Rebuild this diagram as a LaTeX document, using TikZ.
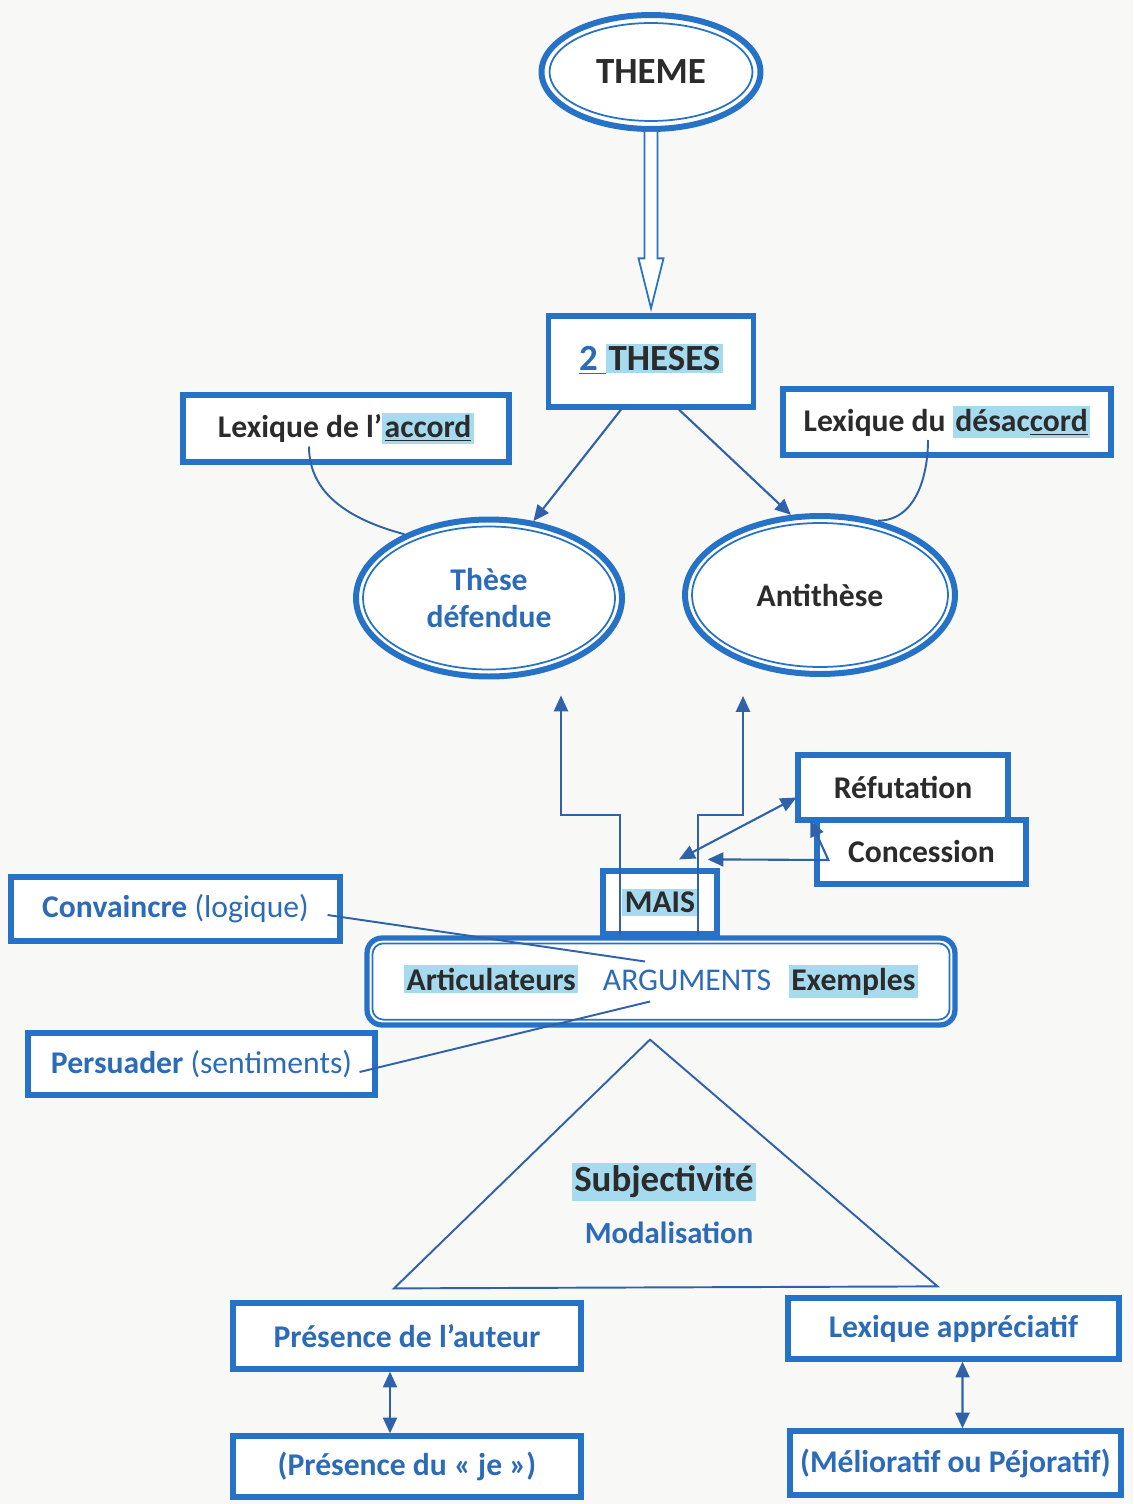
\documentclass[tikz,border=0pt]{standalone}
\usepackage{fontspec}
\setmainfont{Carlito}
\usepackage{xcolor}
\definecolor{bleu}{HTML}{2572C6}
\definecolor{trait}{HTML}{2F62A8}
\definecolor{encre}{HTML}{2B2B2B}
\definecolor{bleutexte}{HTML}{2C6BB7}
\definecolor{surligne}{HTML}{A6DBEF}
\definecolor{papier}{HTML}{F8F8F7}
\usepackage{tikz}
\usetikzlibrary{shapes,arrows,arrows.meta}
\usetikzlibrary{positioning,calc}
\newcommand{\moyen}{\fontsize{18}{21}\selectfont}
\newcommand{\grand}{\fontsize{21}{24}\selectfont}
\newcommand{\surl}[1]{{\setlength{\fboxsep}{1.5pt}\colorbox{surligne}{#1}}}
\tikzstyle{block} = [rectangle, draw=bleu, line width=3pt, fill=white, 
    text centered, inner sep=0pt, font=\moyen\bfseries, text=encre]
\tikzstyle{bulle} = [ellipse, draw=bleu, line width=3.4pt, fill=white, 
    inner sep=0pt, font=\moyen\bfseries, text=encre]
\tikzstyle{bulleint} = [ellipse, draw=bleu, line width=1pt, inner sep=0pt]
\tikzstyle{line} = [draw=trait, line width=1.2pt, -{Triangle[length=9pt,width=8pt]}]
\tikzstyle{both} = [draw=trait, line width=1.2pt, {Triangle[length=9pt,width=8pt]}-{Triangle[length=9pt,width=8pt]}]
\tikzstyle{fil} = [draw=trait, line width=1.1pt]

\begin{document}
\begin{tikzpicture}[x=0.02cm,y=-0.02cm]
    \fill[papier] (0,0) rectangle (1133,1504);
    \useasboundingbox (0,0) rectangle (1133,1504);

    % Place nodes
    \node [bulle, font=\grand\bfseries, minimum width=4.38cm, minimum height=2.28cm] (theme) at (651,72) {THEME};
    \node [bulleint, minimum width=4.06cm, minimum height=1.96cm] (theme-in) at (theme) {};
    \node [block, font=\grand\bfseries, minimum width=4.1cm, minimum height=1.82cm] (theses) at (651,361.5)
        {\raisebox{5pt}{{\color{bleutexte}\underline{2\ }}\surl{THESES}}};

    \node [block, minimum width=6.52cm, minimum height=1.34cm] (accord) at (346,428.5)
        {Lexique de l'\surl{\underline{accord}}};
    \node [block, minimum width=6.56cm, minimum height=1.32cm] (desaccord) at (947,422)
        {Lexique du \surl{désac\underline{cord}}};

    \node [bulle, text=bleutexte, align=center, minimum width=5.32cm, minimum height=3.14cm] (these) at (489,598)
        {Thèse\\défendue};
    \node [bulleint, minimum width=5.04cm, minimum height=2.86cm] (these-in) at (these) {};
    \node [bulle, minimum width=5.4cm, minimum height=3.16cm] (anti) at (820,595) {Antithèse};
    \node [bulleint, minimum width=5.12cm, minimum height=2.88cm] (anti-in) at (anti) {};

    \node [block, minimum width=4.2cm, minimum height=1.3cm] (refut) at (903,787.5) {Réfutation};
    \node [block, minimum width=4.18cm, minimum height=1.28cm] (conc) at (921.5,852) {Concession};

    \node [block, rounded corners=0.3cm, minimum width=11.76cm, minimum height=1.74cm] (args) at (661,981.5)
        {\surl{Articulateurs}\hspace{14pt}{\mdseries\color{bleutexte}ARGUMENTS}\hspace{10pt}\surl{Exemples}};
    \draw [bleu, line width=1pt, rounded corners=0.22cm] ($(args.south west)+(8,-8)$) rectangle ($(args.north east)+(-8,8)$);
    \node [block, minimum width=2.28cm, minimum height=1.26cm] (mais) at (660,902.5) {\surl{MAIS}};

    \node [block, text=bleutexte, minimum width=6.58cm, minimum height=1.28cm] (conv) at (175.5,909)
        {Convaincre {\mdseries(logique)}};
    \node [block, text=bleutexte, minimum width=6.94cm, minimum height=1.24cm] (pers) at (201.5,1064)
        {Persuader {\mdseries(sentiments)}};

    \node [font=\grand\bfseries, text=encre] (subj) at (664,1182) {\surl{Subjectivité}};
    \node [font=\fontsize{17.5}{20}\selectfont\bfseries, text=bleutexte] (modal) at (669,1233) {Modalisation};

    \node [block, text=bleutexte, minimum width=6.96cm, minimum height=1.32cm] (auteur) at (407,1336) {Présence de l'auteur};
    \node [block, text=bleutexte, minimum width=6.96cm, minimum height=1.22cm] (je) at (407,1466.5) {(Présence du « je »)};
    \node [block, text=bleutexte, minimum width=6.62cm, minimum height=1.22cm] (apprec) at (953.5,1328.5) {Lexique appréciatif};
    \node [block, text=bleutexte, minimum width=6.62cm, minimum height=1.28cm] (melio) at (955.5,1463) {(Mélioratif ou Péjoratif)};

    % position dummy nodes
    \coordinate (gauche) at ($(these.south)+(72,16)$);
    \coordinate (droite) at ($(anti.south)+(-77,19)$);
    \coordinate (coude) at ($(conc.west)+(14,8)$);
    \coordinate (sommet) at ($(args.south)+(-11,12)$);
    \coordinate (baseg) at ($(auteur.north)+(-13,-12)$);
    \coordinate (based) at ($(apprec.north)+(-16,-9)$);

    % Draw edges
    \draw [draw=bleu, line width=1pt, fill=white] ($(theme.south)+(-6.5,0)$) -- ($(theses.north)+(-6.5,-55)$)
        -- ($(theses.north)+(-12.5,-55)$) -- ($(theses.north)+(0,-5)$) -- ($(theses.north)+(12.5,-55)$)
        -- ($(theses.north)+(6.5,-55)$) -- ($(theme.south)+(6.5,0)$);
    \path [line] ([xshift=-0.6cm]theses.south) -- (these.60);
    \path [line] ([xshift=0.56cm]theses.south) -- (anti.110);
    \path [fil] ($(accord.center)+(-37,18)$) to[out=-90,in=165] (these.143);
    \path [fil] ($(desaccord.center)+(-19,18)$) to[out=-90,in=0] (anti.52);

    \path [line] ($(args.north)+(-41,0)$) -- ++(0,-120) -| (gauche);
    \path [line] ($(args.north)+(37,0)$) -- ++(0,-120) -| (droite);
    \path [both] ($(mais.north)+(19,-9)$) -- ($(refut.west)+(1,10)$);
    \path [both] ($(mais.north east)+(-12,-9)$) -- (coude) -- ($(refut.south west)+(15,-2)$);

    \path [fil] ($(conv.east)+(-15,6)$) -- ($(args.center)+(-16,-20)$);
    \path [fil] ($(pers.east)+(-18,8)$) -- ($(args.center)+(-11,20)$);

    \path [fil] (sommet) -- (baseg) -- (based) -- cycle;
    \path [both] ([xshift=-0.34cm]auteur.south) -- ([xshift=-0.34cm]je.north);
    \path [both] ([xshift=0.18cm]apprec.south) -- ([xshift=0.14cm]melio.north);
\end{tikzpicture}
\end{document}
